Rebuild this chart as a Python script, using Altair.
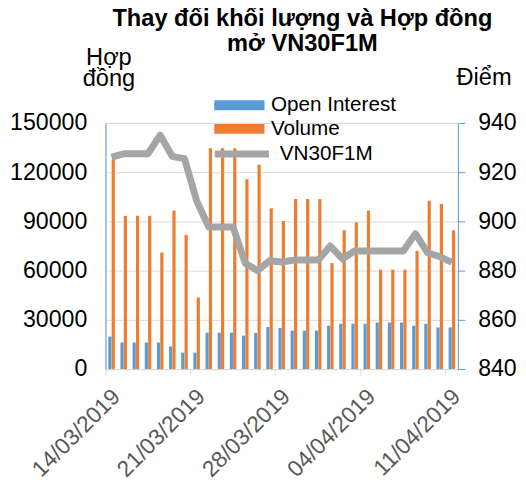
import altair as alt
import pandas as pd

dates = ["14/03/2019", "15/03/2019", "16/03/2019", "17/03/2019", "18/03/2019",
         "19/03/2019", "20/03/2019", "21/03/2019", "22/03/2019", "23/03/2019",
         "24/03/2019", "25/03/2019", "26/03/2019", "27/03/2019", "28/03/2019",
         "29/03/2019", "30/03/2019", "31/03/2019", "01/04/2019", "02/04/2019",
         "03/04/2019", "04/04/2019", "05/04/2019", "06/04/2019", "07/04/2019",
         "08/04/2019", "09/04/2019", "10/04/2019", "11/04/2019"]
label_dates = ["14/03/2019", "21/03/2019", "28/03/2019", "04/04/2019", "11/04/2019"]

open_interest = [19800, 16200, 16200, 16200, 16200, 13800, 10000, 10000, 22200, 22200,
                 22200, 20400, 22000, 25600, 25000, 23400, 23400, 23400, 26400, 27600,
                 27600, 27600, 28400, 28400, 28400, 26400, 27600, 25400, 25400]
volume = [127600, 93400, 93400, 93400, 71000, 96600, 81800, 43600, 134600, 134600,
          134600, 115800, 124600, 98000, 90200, 103600, 103600, 103600, 64600, 84600,
          89400, 96600, 60600, 60600, 60600, 72000, 102600, 100600, 84600]
vn30 = [926.1, 927.5, 927.5, 927.5, 935.0, 926.4, 925.5, 908.4, 897.7, 897.7,
        897.7, 883.0, 880.0, 884.0, 883.5, 884.3, 884.3, 884.3, 890.0, 884.8,
        888.0, 888.0, 888.0, 888.0, 888.0, 895.0, 887.3, 885.7, 883.3]

left_ticks = [0, 30000, 60000, 90000, 120000, 150000]
right_ticks = [840, 860, 880, 900, 920, 940]

BLUE = "#5B9BD5"
ORANGE = "#ED7D31"
GRAY = "#A5A5A5"
FONT = "Liberation Sans"

bars_df = pd.DataFrame({
    "date": dates * 2,
    "series": ["Open Interest"] * len(dates) + ["Volume"] * len(dates),
    "value": open_interest + volume,
})
line_df = pd.DataFrame({"date": dates, "series": ["VN30F1M"] * len(dates), "value": vn30})

x_enc = alt.X(
    "date:N", sort=dates, title=None,
    scale=alt.Scale(paddingInner=0, paddingOuter=0),
    axis=alt.Axis(values=label_dates, labelAngle=-45, bandPosition=0,
                  labelFontSize=23, labelColor="#595959", labelFont=FONT,
                  labelAlign="right", labelBaseline="middle", labelPadding=18,
                  labelOffset=5, labelLimit=300,
                  domainColor="#D9D9D9", tickColor="#D9D9D9", tickSize=6,
                  grid=False),
)

bars = alt.Chart(bars_df).mark_bar().encode(
    x=x_enc,
    xOffset=alt.XOffset("series:N", sort=["Open Interest", "Volume"],
                        scale=alt.Scale(paddingInner=0.05, paddingOuter=0.84)),
    y=alt.Y("value:Q",
            scale=alt.Scale(domain=[0, 150000], nice=False),
            axis=alt.Axis(values=left_ticks, format="d", grid=True, gridColor="#D9D9D9",
                          domainColor=BLUE, ticks=False, labelPadding=19,
                          labelFontSize=23.5, labelColor="#000000", labelFont=FONT,
                          title=["Hợp", "đồng"], titleAngle=0, titleX=3, titleY=-59,
                          titleAlign="center", titleBaseline="alphabetic",
                          titleFontSize=24, titleFontWeight="normal", titleFont=FONT,
                          titleColor="#000000", titleLineHeight=21)),
    color=alt.Color("series:N",
                    scale=alt.Scale(domain=["Open Interest", "Volume"], range=[BLUE, ORANGE]),
                    legend=alt.Legend(title=None, orient="none", legendX=125, legendY=-29,
                                      symbolType="M-2.55,-0.5H2.55V0.5H-2.55Z", symbolSize=400,
                                      labelFontSize=21, labelFont=FONT, labelColor="#000000",
                                      padding=0, rowPadding=3, labelOffset=21)),
)

line = alt.Chart(line_df).mark_line(strokeWidth=7, strokeJoin="round").encode(
    x=x_enc,
    y=alt.Y("value:Q",
            scale=alt.Scale(domain=[840, 940], nice=False, zero=False),
            axis=alt.Axis(orient="right", values=right_ticks, grid=False,
                          domainColor=BLUE, tickColor=BLUE, tickSize=7, labelPadding=13,
                          labelFontSize=23.5, labelColor="#000000", labelFont=FONT,
                          title="Điểm", titleAngle=0, titleX=26, titleY=-39,
                          titleAlign="center", titleBaseline="alphabetic",
                          titleFontSize=24, titleFontWeight="normal", titleFont=FONT,
                          titleColor="#000000")),
    stroke=alt.Stroke("series:N", scale=alt.Scale(domain=["VN30F1M"], range=[GRAY]),
                      legend=alt.Legend(title=None, orient="none", legendX=125, legendY=18,
                                        symbolType="M-2.75,0H2.75", symbolSize=400,
                                        symbolStrokeWidth=7,
                                        labelFontSize=21, labelFont=FONT, labelColor="#000000",
                                        padding=0, labelOffset=25)),
)

chart = alt.layer(bars, line).resolve_scale(
    y="independent", color="independent", stroke="independent"
).properties(
    width=358, height=250,
    autosize=alt.AutoSizeParams(type="none"),
    padding={"left": 99, "top": 113, "right": 61, "bottom": 115},
    title=alt.TitleParams(["Thay đổi khối lượng và Hợp đồng", "mở VN30F1M"],
                          fontSize=24, font=FONT, fontWeight="bold", anchor="middle",
                          frame="group", baseline="alphabetic",
                          dx=21, dy=44, offset=15, lineHeight=25, color="#000000"),
).configure_view(stroke=None).configure(background="white")

chart.save("out.html", embed_options={"renderer": "svg", "actions": False})
